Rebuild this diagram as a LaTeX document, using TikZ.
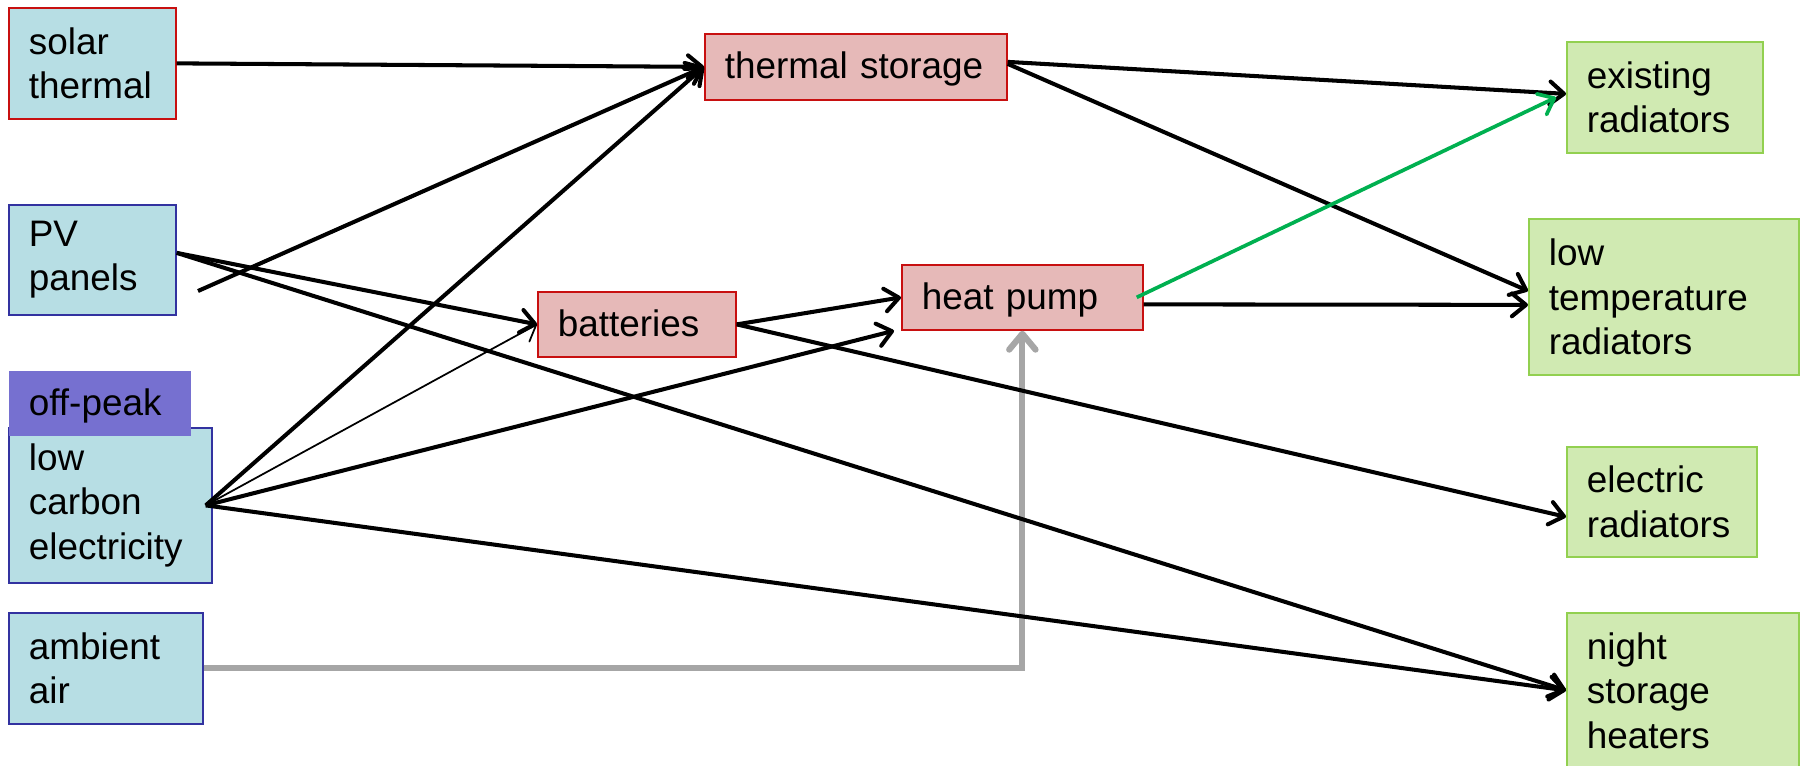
\documentclass[tikz,border=0pt]{standalone}
\usepackage{fontspec}
\setmainfont{Liberation Sans}
\usetikzlibrary{arrows.meta}
\definecolor{srcfill}{RGB}{183,222,228}
\definecolor{midfill}{RGB}{230,185,184}
\definecolor{outfill}{RGB}{208,234,178}
\definecolor{outline}{RGB}{146,208,80}
\definecolor{redline}{RGB}{200,16,16}
\definecolor{blueline}{RGB}{50,50,160}
\definecolor{peakfill}{RGB}{118,112,208}
\definecolor{grayline}{RGB}{166,166,166}
\definecolor{greenline}{RGB}{0,176,80}
\begin{document}
\begin{tikzpicture}[x=0.02cm,y=-0.02cm,
  boxbase/.style={draw,line width=1pt,anchor=north west,align=left,inner xsep=0.4cm,inner ysep=0pt,
    font=\fontsize{21}{25.3}\selectfont},
  oneline/.style={text height=18pt,text depth=4.4pt},
  srcbox/.style={boxbase,fill=srcfill,draw=blueline},
  midbox/.style={boxbase,fill=midfill,draw=redline},
  outbox/.style={boxbase,fill=outfill,draw=outline},
  tip/.style={-{Straight Barb[length=8pt,width=13pt,round]}},
  arr/.style={line width=2.3pt,tip},
  thinarr/.style={line width=1pt,tip},
  grayarr/.style={line width=3.5pt,draw=grayline,-{Straight Barb[length=9pt,width=15pt,round]}},
  greenarr/.style={line width=2.1pt,draw=greenline,tip}]
\useasboundingbox (0,0) rectangle (1800,765);
\clip (0,0) rectangle (1800,765);
% sources
\node[srcbox,draw=redline,text width=2.54cm,minimum height=2.22cm] (sol) at (8,7) {solar\\thermal};
\node[srcbox,text width=2.54cm,minimum height=2.2cm] (pv) at (8,204) {PV\\panels};
\node[srcbox,text width=3.26cm,minimum height=3.1cm] (lc) at (8,427) {low\\carbon\\electricity};
\node[boxbase,oneline,draw=none,fill=peakfill,text width=2.84cm,minimum height=1.3cm] (op) at (8,370) {off-peak};
\node[srcbox,text width=3.08cm,minimum height=2.22cm] (amb) at (8,612) {ambient\\air};
% intermediates
\node[midbox,oneline,text width=5.24cm,minimum height=1.32cm] (ts) at (704,33) {thermal storage};
\node[midbox,oneline,text width=3.16cm,minimum height=1.3cm] (bat) at (537,291) {batteries};
\node[midbox,oneline,text width=4.02cm,minimum height=1.3cm] (hp) at (901,264) {heat pump};
% outputs
\node[outbox,text width=3.12cm,minimum height=2.22cm] (ex) at (1566,41) {existing\\radiators};
\node[outbox,text width=4.6cm,minimum height=3.12cm] (lt) at (1528,218) {low\\temperature\\radiators};
\node[outbox,text width=3.0cm,minimum height=2.2cm] (er) at (1566,446) {electric\\radiators};
\node[outbox,text width=3.84cm,minimum height=3.1cm] (nsh) at (1566,612) {night\\storage\\heaters};
% helper points
\coordinate (pvs) at ([yshift=0.14cm]pv.east);
\coordinate (pvf) at (198,291);
\coordinate (lco) at ([xshift=-0.14cm]lc.east);
% connectors
\draw[grayarr] (amb.east) -| (hp.south);
\draw[arr] (sol.east) -- (ts.west);
\draw[arr] (pvs) -- (bat.west);
\draw[arr] (pvs) -- (nsh.west);
\draw[arr] (pvf) -- (ts.west);
\draw[arr] (lco) -- (ts.west);
\draw[thinarr] (lco) -- (bat.west);
\draw[arr] (lco) -- ([xshift=-0.14cm]hp.south west);
\draw[arr] (lco) -- (nsh.west);
\draw[arr] (bat.east) -- (hp.west);
\draw[arr] (bat.east) -- ([yshift=-0.3cm]er.west);
\draw[arr] ([yshift=0.1cm]ts.east) -- ([yshift=0.07cm]ex.west);
\draw[arr] ([yshift=0.06cm]ts.east) -- ([yshift=0.12cm]lt.west);
\draw[arr] ([yshift=-0.14cm]hp.east) -- ([yshift=-0.16cm]lt.west);
\draw[greenarr] ([xshift=-0.14cm]hp.east) -- ([xshift=-0.2cm]ex.west);
\end{tikzpicture}
\end{document}
